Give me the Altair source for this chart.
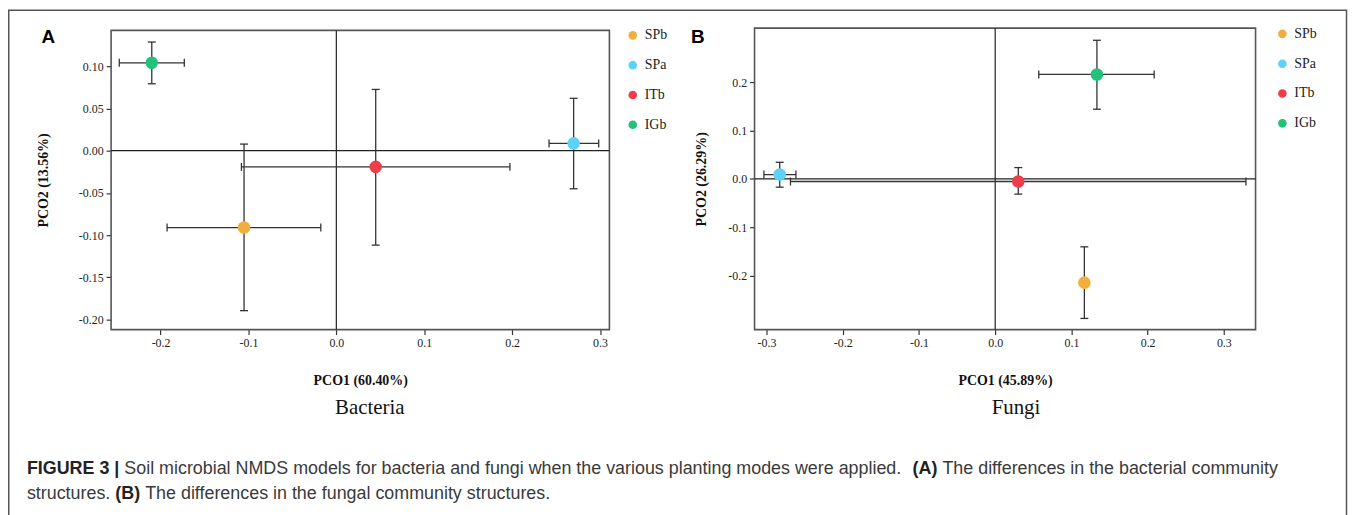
import altair as alt
import pandas as pd

# ---------------- data ----------------
groups = ["SPb", "SPa", "ITb", "IGb"]
colors = ["#F2AE3D", "#5BD2F6", "#EF3E4A", "#23C17A"]

# Bacteria (panel A)
bac_x = [-0.105, 0.270, 0.0448, -0.210]
bac_y = [-0.091, 0.0086, -0.0192, 0.104]
bac_xlo = [-0.1926, 0.242, -0.108, -0.247]
bac_xhi = [-0.0177, 0.2985, 0.1975, -0.173]
bac_ylo = [-0.1894, -0.0451, -0.1118, 0.0792]
bac_yhi = [0.0078, 0.062, 0.0725, 0.1286]

# Fungi (panel B)
fun_x = [0.117, -0.2827, 0.0303, 0.1335]
fun_y = [-0.2148, 0.0089, -0.0055, 0.216]
fun_xlo = [None, -0.3034, -0.2686, 0.0572]
fun_xhi = [None, -0.2614, 0.329, 0.2086]
fun_ylo = [-0.2889, -0.0172, -0.0316, 0.1441]
fun_yhi = [-0.1407, 0.0343, 0.0233, 0.2868]

bac_xdom = [-0.2563, 0.3107]
bac_ydom = [-0.2118, 0.1424]
fun_xdom = [-0.3157, 0.3416]
fun_ydom = [-0.312, 0.312]

bac_xticks = [-0.2, -0.1, 0.0, 0.1, 0.2, 0.3]
bac_yticks = [-0.20, -0.15, -0.10, -0.05, 0.0, 0.05, 0.10]
fun_xticks = [-0.3, -0.2, -0.1, 0.0, 0.1, 0.2, 0.3]
fun_yticks = [-0.2, -0.1, 0.0, 0.1, 0.2]

bac_xtitle = "PCO1 (60.40%)"
bac_ytitle = "PCO2 (13.56%)"
fun_xtitle = "PCO1 (45.89%)"
fun_ytitle = "PCO2 (26.29%)"
panel_names = ["Bacteria", "Fungi"]
panel_letters = ["A", "B"]

cap_line1 = ["FIGURE 3 |",
             "Soil microbial NMDS models for bacteria and fungi when the various planting modes were applied.",
             "(A)",
             "The differences in the bacterial community"]
cap_line1_bold = [True, False, True, False]
cap_line2 = ["structures.", "(B)", "The differences in the fungal community structures."]
cap_line2_bold = [False, True, False]

# ---------------- layout ----------------
W, H = 1349, 507
SERIF = "Liberation Serif"
SANS = "Liberation Sans"
EC = "#333333"
EW = 1.3


def fmt_expr(d):
    return ("datum.value < 0 ? '-' + format(-datum.value, '.%df') : format(datum.value, '.%df')" % (d, d))


def panel(xs, ys, xlo, xhi, ylo, yhi, xdom, ydom, xticks, yticks, xd, yd,
          xtitle, ytitle, xr, yr, leg_x, leg_y, ytitle_pad):
    df = pd.DataFrame({"group": groups, "x": xs, "y": ys, "xlo": xlo, "xhi": xhi,
                       "ylo": ylo, "yhi": yhi})
    xscale = alt.Scale(domain=xdom, range=xr, nice=False, zero=False)
    yscale = alt.Scale(domain=ydom, range=yr, nice=False, zero=False)
    common = dict(domain=False, grid=False, tickColor="#333333", tickSize=5, tickWidth=1.2,
                  labelFont=SERIF, labelFontSize=12, labelColor="#222222", labelPadding=3,
                  titleFont=SERIF, titleFontSize=14, titleFontWeight="bold", titleColor="#111111")
    xaxis = alt.Axis(orient="bottom", offset=yr[0] - H, values=xticks, labelExpr=fmt_expr(xd),
                     title=xtitle, titlePadding=25, **common)
    yaxis = alt.Axis(orient="left", offset=-xr[0], values=yticks, labelExpr=fmt_expr(yd),
                     title=ytitle, titlePadding=ytitle_pad, **common)

    def X(f):
        return alt.X(f, type="quantitative", scale=xscale, axis=xaxis)

    def Y(f):
        return alt.Y(f, type="quantitative", scale=yscale, axis=yaxis)

    fdf = pd.DataFrame({"x": [xdom[0]], "x2": [xdom[1]], "y": [ydom[0]], "y2": [ydom[1]], "zero": [0.0]})
    frame = alt.Chart(fdf).mark_rect(fillOpacity=0, stroke="#555555", strokeWidth=1.6).encode(
        x=X("x"), x2="x2", y=Y("y"), y2="y2")
    vzero = alt.Chart(fdf).mark_rule(color="#222222", strokeWidth=1.2).encode(
        x=X("zero"), y=Y("y"), y2="y2")
    hzero = alt.Chart(fdf).mark_rule(color="#222222", strokeWidth=1.2).encode(
        x=X("x"), x2="x2", y=Y("zero"))

    base = alt.Chart(df)
    hbar = base.mark_rule(color=EC, strokeWidth=EW).encode(x=X("xlo"), x2="xhi", y=Y("y"))
    vbar = base.mark_rule(color=EC, strokeWidth=EW).encode(x=X("x"), y=Y("ylo"), y2="yhi")
    cxl = base.mark_tick(orient="vertical", size=8, thickness=EW, color=EC, opacity=1).encode(
        x=X("xlo"), y=Y("y"))
    cxh = base.mark_tick(orient="vertical", size=8, thickness=EW, color=EC, opacity=1).encode(
        x=X("xhi"), y=Y("y"))
    cyl = base.mark_tick(orient="horizontal", size=8, thickness=EW, color=EC, opacity=1).encode(
        x=X("x"), y=Y("ylo"))
    cyh = base.mark_tick(orient="horizontal", size=8, thickness=EW, color=EC, opacity=1).encode(
        x=X("x"), y=Y("yhi"))
    pts = base.mark_circle(size=160, opacity=1).encode(
        x=X("x"), y=Y("y"),
        color=alt.Color("group:N", scale=alt.Scale(domain=groups, range=colors),
                        legend=alt.Legend(title=None, orient="none", legendX=leg_x, legendY=leg_y,
                                          symbolType="circle", symbolSize=75, symbolStrokeWidth=0,
                                          symbolOpacity=1, labelFont=SERIF, labelFontSize=14,
                                          labelColor="#222222", rowPadding=16, labelOffset=5,
                                          padding=0)))
    return alt.layer(frame, vzero, hzero, hbar, vbar, cxl, cxh, cyl, cyh, pts)


pA = panel(bac_x, bac_y, bac_xlo, bac_xhi, bac_ylo, bac_yhi, bac_xdom, bac_ydom,
           bac_xticks, bac_yticks, 1, 2, bac_xtitle, bac_ytitle,
           [103.7, 605], [322, 21], 621.5, 19, 28)
pB = panel(fun_x, fun_y, fun_xlo, fun_xhi, fun_ylo, fun_yhi, fun_xdom, fun_ydom,
           fun_xticks, fun_yticks, 1, 1, fun_xtitle, fun_ytitle,
           [751, 1255], [322, 18.7], 1275, 17.5, 19)


def text_chart(t, x, y, font, size, weight="normal", color="#222222", align="left"):
    return alt.Chart(pd.DataFrame({"t": [t]})).mark_text(
        font=font, fontSize=size, fontWeight=weight, color=color, align=align,
        baseline="alphabetic").encode(text="t:N", x=alt.value(x), y=alt.value(y))


texts = [
    text_chart(panel_names[0], 364, 407, SERIF, 21, color="#111111", align="center"),
    text_chart(panel_names[1], 1014, 407, SERIF, 21, color="#111111", align="center"),
    text_chart(panel_letters[0], 33.7, 33.7, SANS, 19, "bold", "#000000"),
    text_chart(panel_letters[1], 687, 33.7, SANS, 19, "bold", "#000000"),
]
line1_x = [19, 117, 910, 940]
line2_x = [19, 108, 138]
for t, b, x in zip(cap_line1, cap_line1_bold, line1_x):
    texts.append(text_chart(t, x, 467, SANS, 18, "bold" if b else "normal",
                            "#222222" if b else "#3a3a3a"))
for t, b, x in zip(cap_line2, cap_line2_bold, line2_x):
    texts.append(text_chart(t, x, 492, SANS, 18, "bold" if b else "normal",
                            "#222222" if b else "#3a3a3a"))

border = alt.Chart(pd.DataFrame({"k": [0]})).mark_rect(
    fillOpacity=0, stroke="#555555", strokeWidth=1.5).encode(
    x=alt.value(0.75), x2=alt.value(1346.5), y=alt.value(0.75), y2=alt.value(640))

chart = alt.layer(border, pA, pB, *texts).resolve_scale(
    x="independent", y="independent", color="independent"
).properties(
    width=W, height=H, padding=0, autosize=alt.AutoSizeParams(type="none")
).configure_view(strokeWidth=0)

chart.save("out.html", embed_options={"renderer": "svg", "actions": False})
